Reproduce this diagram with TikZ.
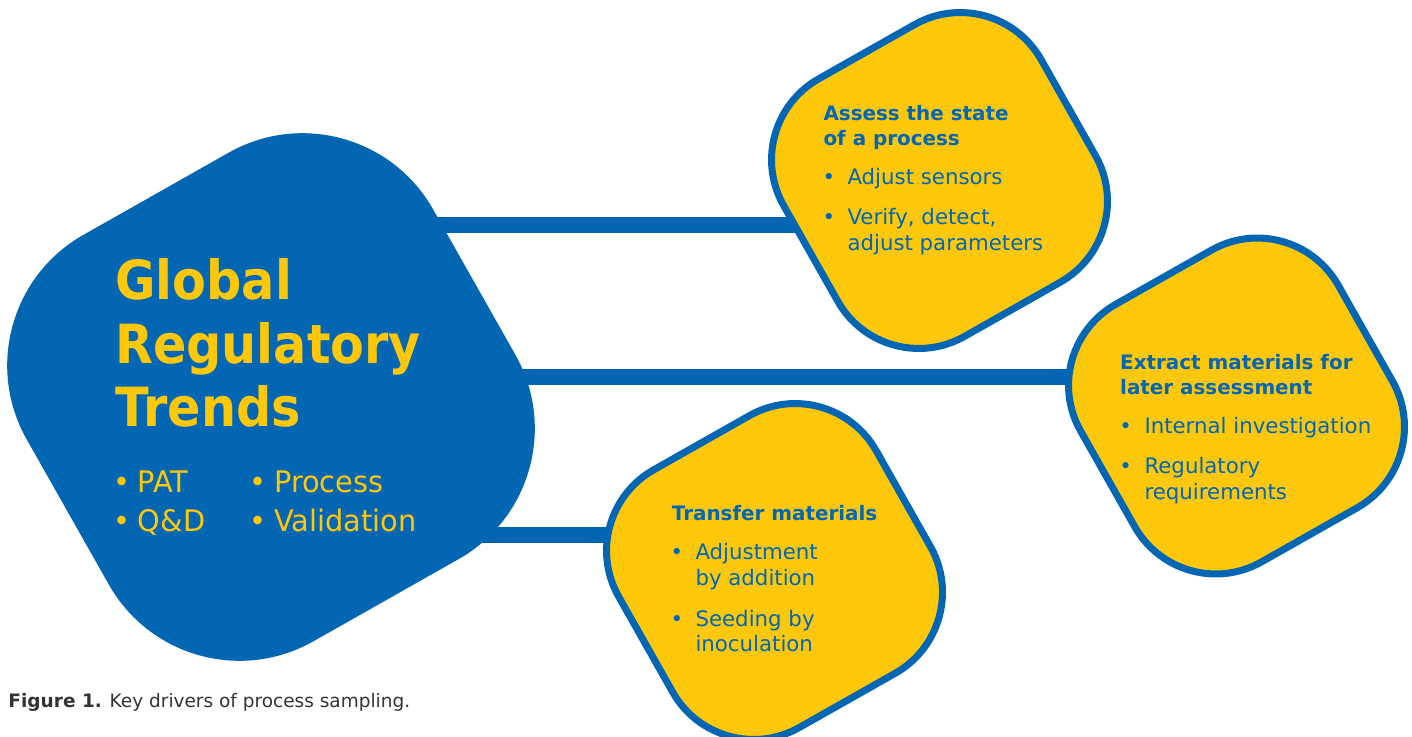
\documentclass[tikz,border=0pt]{standalone}
\usepackage{fontspec}
\setmainfont{DejaVu Sans}
\newfontfamily\titlefont[FakeStretch=0.913]{DejaVu Sans}
\newfontfamily\hubfont[FakeStretch=0.97]{DejaVu Sans}
\usetikzlibrary{backgrounds}
\definecolor{mblue}{RGB}{2,102,178}
\definecolor{myel}{RGB}{253,200,10}
\definecolor{capgray}{RGB}{51,51,51}
\newcommand{\lbul}[1]{\llap{\makebox[#1][l]{\kern-2.5pt\textbullet}}}
\tikzset{
  hub/.style={fill=mblue, rotate=29.5, rounded corners=150pt, minimum size=467pt, inner sep=0pt, outer sep=0pt},
  leaf/.style={fill=myel, draw=mblue, line width=7pt, rotate=29.5, rounded corners=93pt, minimum size=296pt, inner sep=0pt, outer sep=0pt},
  bar/.style={draw=mblue, line width=16pt},
  hubtitle/.style={anchor=base west, align=left, inner sep=0pt, text=myel, font=\titlefont\fontsize{54}{63.7}\selectfont\bfseries},
  hubitem/.style={anchor=base west, inner sep=0pt, text=myel, font=\hubfont\fontsize{29.7}{38.5}\selectfont},
  leaftitle/.style={anchor=base west, align=left, inner sep=0pt, text=mblue, font=\fontsize{19.9}{24.8}\selectfont\bfseries},
  leafitem/.style={anchor=base west, align=left, inner sep=0pt, text=mblue, font=\fontsize{21.3}{25.3}\selectfont},
  caption/.style={anchor=base west, inner sep=0pt, text=capgray, font=\fontsize{18.5}{22}\selectfont}
}
\begin{document}
\begin{tikzpicture}[x=1pt, y=-1pt]
\useasboundingbox (0,0) rectangle (1412,736);
\clip (0,0) rectangle (1412,736);
% shapes
\node[hub] (G) at (271,397) {};
\node[leaf] (A) at (939.5,180.5) {};
\node[leaf] (B) at (1236.5,406) {};
\node[leaf] (C) at (774.5,571.5) {};
% connectors
\begin{pgfonlayer}{background}
\draw[bar] ([yshift=172pt]G.center) -- ([yshift=-44.5pt]A.center);
\draw[bar] ([yshift=20pt]G.center) -- ([yshift=29pt]B.center);
\draw[bar] ([yshift=-138pt]G.center) -- ([yshift=36.5pt]C.center);
\end{pgfonlayer}
% hub text (anchor = baseline of last line)
\node[hubtitle] (Gt) at (115,426.7) {Global\\Regulatory\\Trends};
\node[hubitem] (g1) at (137.7,492.7) {\lbul{21.7pt}PAT};
\node[hubitem] (g2) at (137.7,531.5) {\lbul{21.7pt}Q\&D};
\node[hubitem] (g3) at (274,492.7) {\lbul{22.3pt}Process};
\node[hubitem] (g4) at (274,531.5) {\lbul{22.3pt}Validation};
% leaf A
\node[leaftitle] (At) at (823.3,145.7) {Assess the state\\of a process};
\node[leafitem] (a1) at (847.3,184.3) {\lbul{22.3pt}Adjust sensors};
\node[leafitem] (a2) at (847.3,250) {\lbul{22.3pt}Verify, detect,\\adjust parameters};
% leaf B
\node[leaftitle] (Bt) at (1120,394) {Extract materials for\\later assessment};
\node[leafitem] (b1) at (1144.3,433.3) {\lbul{22.6pt}Internal investigation};
\node[leafitem] (b2) at (1144.3,499) {\lbul{22.6pt}Regulatory\\requirements};
% leaf C
\node[leaftitle] (Ct) at (671.7,520) {Transfer materials};
\node[leafitem] (c1) at (695.3,585) {\lbul{22.3pt}Adjustment\\by addition};
\node[leafitem] (c2) at (695.3,651.7) {\lbul{22.3pt}Seeding by\\inoculation};
% caption
\node[caption] (cap) at (8.3,707.7) {\textbf{Figure 1.} Key drivers of process sampling.};
\end{tikzpicture}
\end{document}
